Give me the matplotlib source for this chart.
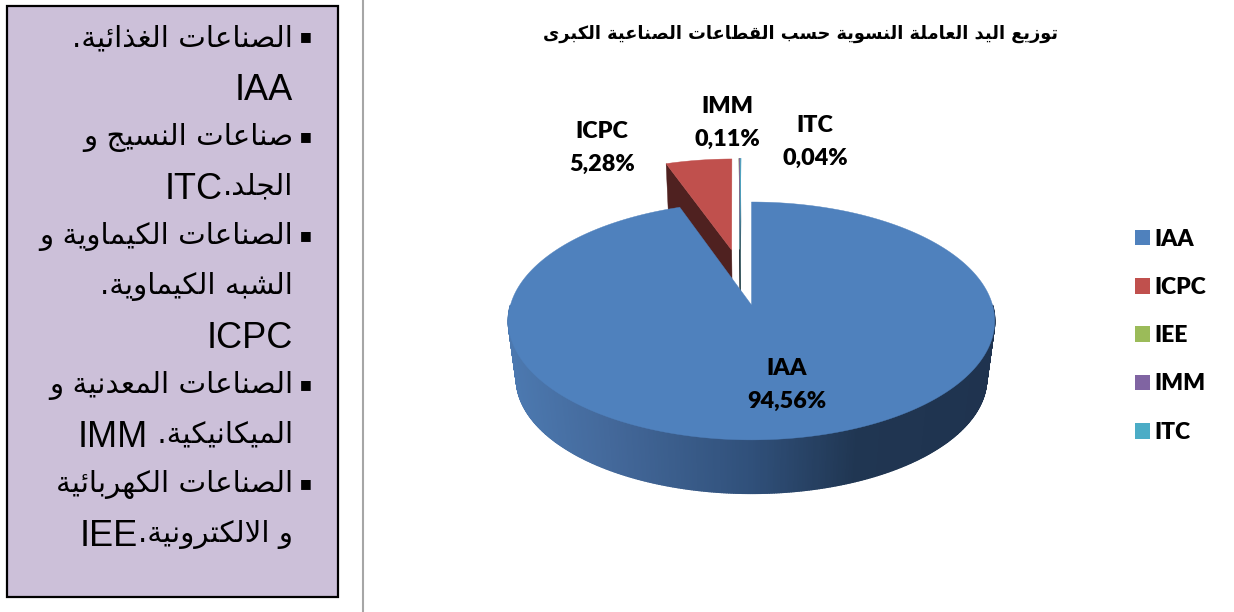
#!/usr/bin/env python
"""Women workforce by big industrial sector: exploded 3D pie plus a side panel"""

import re

import matplotlib
matplotlib.use('Agg')
import matplotlib.pyplot as plt
import numpy as np
from matplotlib.colors import LinearSegmentedColormap
from matplotlib.patches import Patch, Rectangle

# chart data
names = ['IAA', 'ICPC', 'IEE', 'IMM', 'ITC']
values = [94.56, 5.28, 0.01, 0.11, 0.04]
colors = ['#4f81bd', '#c0504d', '#9bbb59', '#8064a2', '#4bacc6']
labelled = ['IAA', 'ICPC', 'IMM', 'ITC']

title = 'توزيع اليد العاملة النسوية حسب القطاعات الصناعية الكبرى'

panel_lines = ['الصناعات الغذائية.', 'IAA', 'صناعات النسيج و', 'الجلد.ITC',
               'الصناعات الكيماوية و', 'الشبه الكيماوية.', 'ICPC',
               'الصناعات المعدنية و', 'الميكانيكية. IMM',
               'الصناعات الكهربائية', 'و الالكترونية.IEE']
panel_bullets = [0, 2, 4, 7, 9]

# matplotlib has no arabic shaping, so pick the presentation forms by hand
FOUR_FORMS = {'ئ': 0xFE89, 'ب': 0xFE8F, 'ت': 0xFE95, 'ج': 0xFE9D, 'ح': 0xFEA1,
              'س': 0xFEB1, 'ش': 0xFEB5, 'ص': 0xFEB9, 'ط': 0xFEC1, 'ع': 0xFEC9,
              'غ': 0xFECD, 'ف': 0xFED1, 'ق': 0xFED5, 'ك': 0xFED9, 'ل': 0xFEDD,
              'م': 0xFEE1, 'ن': 0xFEE5, 'ه': 0xFEE9, 'ي': 0xFEF1}
TWO_FORMS = {'ا': 0xFE8D, 'ة': 0xFE93, 'د': 0xFEA9, 'ذ': 0xFEAB, 'ر': 0xFEAD,
             'ز': 0xFEAF, 'و': 0xFEED, 'ى': 0xFEEF}


def shape(text):
    """logical arabic -> joined glyphs in visual order, latin runs stay readable"""
    out = []
    i = 0
    while i < len(text):
        ch = text[i]
        prev_joins = i > 0 and text[i - 1] in FOUR_FORMS
        if ch == 'ل' and text[i + 1:i + 2] == 'ا':
            out.append(chr(0xFEFC if prev_joins else 0xFEFB))
            i += 2
            continue
        next_joins = i + 1 < len(text) and (text[i + 1] in FOUR_FORMS or text[i + 1] in TWO_FORMS)
        if ch in FOUR_FORMS:
            form = {(0, 0): 0, (1, 0): 1, (0, 1): 2, (1, 1): 3}[(int(prev_joins), int(next_joins))]
            out.append(chr(FOUR_FORMS[ch] + form))
        elif ch in TWO_FORMS:
            out.append(chr(TWO_FORMS[ch] + int(prev_joins)))
        else:
            out.append(ch)
        i += 1
    visual = ''.join(reversed(out))
    return re.sub(r'[A-Za-z]+', lambda m: m.group(0)[::-1], visual)


# perspective of the pie: unit disc to pixels
CX, CY = 751.5, 305
K, A, B = 0.134, 116.8, 241.0
DEPTH, SHRINK = 58, 0.967


def project(px, py, lower=False):
    w = 1 + K * py
    x, y = B * px / w, -A * py / w
    if lower:
        return CX + SHRINK * x, CY + DEPTH + SHRINK * y
    return CX + x, CY + y


fig = plt.figure(figsize=(12.34, 6.12), dpi=100)
ax = fig.add_axes([0, 0, 1, 1])
ax.set_xlim(0, 1234)
ax.set_ylim(612, 0)
ax.axis('off')

# left panel and the separator
ax.add_patch(Rectangle((7, 6), 331, 591, facecolor='#ccc0d9', edgecolor='black', lw=1.6))
ax.plot([362.5, 362.5], [0, 612], color='#a6a6a6', lw=1.5)

renderer = fig.canvas.get_renderer()
for n, line in enumerate(panel_lines):
    y = 37 + n * 49.6
    right = 293
    for run in reversed(re.findall(r'[A-Za-z]+|[^A-Za-z]+', shape(line))):
        latin = run[0].isascii() and run[0].isalpha()
        t = ax.text(right, y if latin else y - 2, run, ha='right', va='center_baseline', color='black',
                    fontsize=26 if latin else 21.2,
                    family='Liberation Sans' if latin else 'DejaVu Sans')
        right -= t.get_window_extent(renderer).width
    if n in panel_bullets:
        ax.text(306, y, '■', ha='center', va='center', fontsize=9, color='black',
                family='DejaVu Sans')

# slice angles, clockwise from 12 o'clock
fractions = np.array(values) / sum(values)
starts = -2 * np.pi * np.concatenate(([0], np.cumsum(fractions)[:-1]))
ends = starts - 2 * np.pi * fractions
pie_explode = {'IAA': (0.0, 0.0), 'ICPC': (-0.0877, 0.502),
               'IEE': (-0.052, 0.51), 'IMM': (-0.052, 0.51), 'ITC': (-0.052, 0.51)}


def wedge_outline(name, lower=False):
    i = names.index(name)
    dx, dy = pie_explode[name]
    # angles are measured clockwise from the top, start is 0 for IAA
    theta = np.linspace(-starts[i], -ends[i], max(3, int(values[i] * 6)))
    px = np.concatenate(([0], np.sin(theta))) + dx
    py = np.concatenate(([0], np.cos(theta))) + dy
    return project(px, py, lower)


def shade(color, factor):
    rgb = np.array(matplotlib.colors.to_rgb(color))
    return tuple(rgb * factor)


# exploded slices first, the big slice covers their lower part
for name in ['ICPC', 'IEE', 'IMM', 'ITC']:
    x0, y0 = wedge_outline(name)
    x1, y1 = wedge_outline(name, lower=True)
    color = colors[names.index(name)]
    # cut face seen on the left side of the slice
    ax.fill([x0[0], x0[1], x1[1], x1[0]], [y0[0], y0[1], y1[1], y1[0]],
            color=shade(color, 0.41), lw=0.3, zorder=2)
    ax.fill(x0, y0, color=color, lw=0.3, zorder=3)

# front wall of the big slice with the horizontal shading
wall_cmap = LinearSegmentedColormap.from_list(
    'wall', [(0, '#4c79b0'), (0.2, '#44699b'), (0.5, '#30507a'),
             (0.72, '#203652'), (1, '#1f334f')])
i = names.index('IAA')
theta = np.linspace(np.pi / 2, 3 * np.pi / 2, 500)[::-1]
xt, yt = project(np.sin(theta), np.cos(theta))
xb, yb = project(np.sin(theta), np.cos(theta), lower=True)
for j in range(len(theta) - 1):
    frac = (xt[j] - xt.min()) / (xt.max() - xt.min())
    ax.fill([xt[j], xt[j + 1], xb[j + 1], xb[j]], [yt[j], yt[j + 1], yb[j + 1], yb[j]],
            facecolor=wall_cmap(frac), edgecolor=wall_cmap(frac), lw=1.0, zorder=4)

x0, y0 = wedge_outline('IAA')
ax.fill(x0, y0, color=colors[i], lw=0.3, zorder=5)

# data labels
label_pos = {'IAA': (787, 385), 'ICPC': (602, 148), 'IMM': (727, 123), 'ITC': (815, 142)}
for name in labelled:
    value = values[names.index(name)]
    ax.text(*label_pos[name], f'{name}\n{value:.2f}%'.replace('.', ','), ha='center', va='center',
            family='Lato', weight='heavy', fontsize=16.8, linespacing=1.66, color='black', zorder=6)

ax.text(800.5, 33.5, shape(title), ha='center', va='center', family='DejaVu Sans', weight='bold',
        fontsize=12.8, color='black')

handles = [Patch(facecolor=c, edgecolor='none') for c in colors]
ax.legend(handles, names, loc='upper left', bbox_to_anchor=(1114 / 1234, 1 - 208 / 612),
          frameon=False, prop={'family': 'Lato', 'weight': 'heavy', 'size': 16.5},
          handlelength=0.68, handleheight=0.68, handletextpad=0.17, labelspacing=1.19,
          borderpad=0.4, labelcolor='black')

fig.savefig('out.png', dpi=100)
